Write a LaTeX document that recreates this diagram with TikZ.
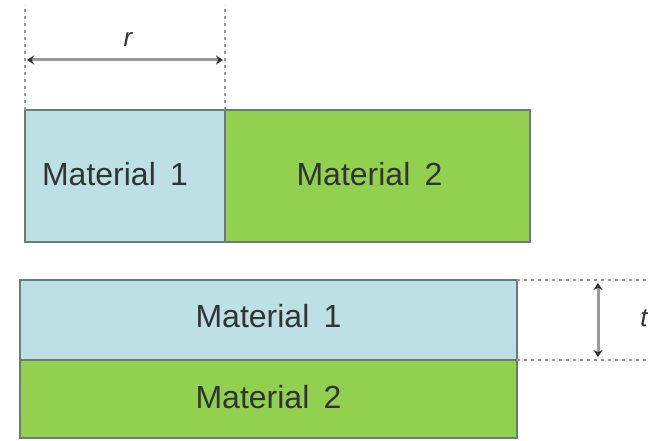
\documentclass[tikz,border=0pt]{standalone}
\usepackage{fontspec}
\setmainfont{Liberation Sans}
\usetikzlibrary{arrows.meta}
\definecolor{matone}{HTML}{BCE0E4}
\definecolor{mattwo}{HTML}{92D050}
\definecolor{edgegray}{HTML}{6E7A78}
\tikzset{
  x=1pt,y=-1pt,
  block/.style={draw=edgegray, line width=2.5pt, inner sep=0pt, outer sep=0pt, font=\fontsize{32}{34}\selectfont, text=black!80},
  guide/.style={draw=gray!80, line width=2pt, dash pattern=on 3pt off 4pt},
  dim/.style={draw=gray!80, line width=3pt, {Stealth[length=7pt,width=9pt,black!80]}-{Stealth[length=7pt,width=9pt,black!80]}},
  dimlabel/.style={font=\itshape\fontsize{26}{28}\selectfont, text=black!80}
}
\begin{document}
\begin{tikzpicture}
\useasboundingbox (0,0) rectangle (648,441);
% top row
\node[block, fill=matone, minimum width=200pt, minimum height=132pt, anchor=north west] (m1a) at (25,110) {\raisebox{4pt}{Material\, 1}\kern20pt};
\node[block, fill=mattwo, minimum width=305pt, minimum height=132pt, anchor=north west] (m2a) at (225,110) {\raisebox{4pt}{Material\, 2}\kern16pt};
\coordinate (ga) at (0,5);
\draw[guide] (m1a.north west) -- (m1a.north west |- ga);
\draw[guide] (m1a.north east) -- (m1a.north east |- ga);
\coordinate (ra) at (27,60);
\coordinate (rb) at (223,60);
\draw[dim] (ra) -- (rb);
\node[dimlabel] (rl) at (128,40) {r};
% bottom row
\node[block, fill=matone, minimum width=497pt, minimum height=80pt, anchor=north west] (m1b) at (20,280) {\raisebox{8pt}{Material\, 1}};
\node[block, fill=mattwo, minimum width=497pt, minimum height=78pt, anchor=north west] (m2b) at (20,360) {\raisebox{5pt}{Material\, 2}};
\coordinate (gc) at (648,0);
\draw[guide] (m1b.north east) -- (m1b.north east -| gc);
\draw[guide] (m1b.south east) -- (m1b.south east -| gc);
\coordinate (ta) at (598,283);
\coordinate (tb) at (598,357);
\draw[dim] (ta) -- (tb);
\node[dimlabel] (tl) at (644,318) {t};
\end{tikzpicture}
\end{document}
